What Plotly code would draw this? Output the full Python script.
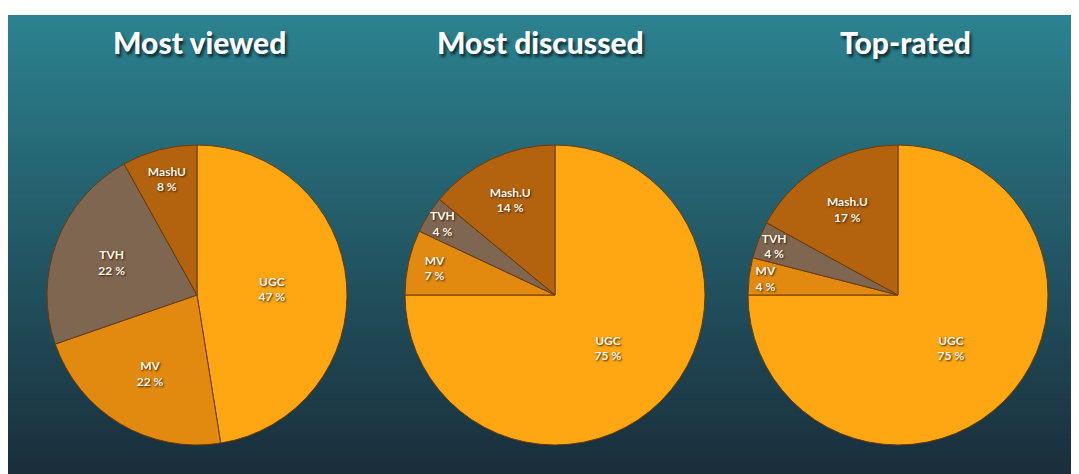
import plotly.graph_objects as go

# data
titles = ["Most viewed", "Most discussed", "Top-rated"]
labels_viewed = ["UGC", "MV", "TVH", "MashU"]
labels_other = ["UGC", "MV", "TVH", "Mash.U"]
share_viewed = [47, 22, 22, 8]
share_discussed = [75, 7, 4, 14]
share_rated = [75, 4, 4, 17]
slice_colors = ["#FFA713", "#E2890F", "#7F6651", "#B3620D"]

# the page adds an 8px body margin, so the figure is 8px smaller each way
W, H = 1071, 466
OFF = 8

fig = go.Figure()

pies = [
    (labels_viewed, share_viewed, 197),
    (labels_other, share_discussed, 555),
    (labels_other, share_rated, 898),
]
rad = 150
cy = 295 - OFF
for labels, values, cx in pies:
    cx = cx - OFF
    fig.add_trace(go.Pie(
        labels=labels,
        values=values,
        sort=False,
        direction="clockwise",
        rotation=0,
        marker=dict(colors=slice_colors, line=dict(color="#6B3A08", width=1)),
        texttemplate="%{label}<br>%{value} %",
        textposition="inside",
        insidetextorientation="horizontal",
        textfont=dict(family="Lato", size=12, color="#FFF8EC",
                      weight="bold", shadow="1px 1px 2px #3a1d00"),
        hoverinfo="label+value",
        showlegend=False,
        domain=dict(x=[(cx - rad) / W, (cx + rad) / W],
                    y=[1 - (cy + rad) / H, 1 - (cy - rad) / H]),
    ))

# title annotations
title_x = [199, 540, 905]
for t, x in zip(titles, title_x):
    fig.add_annotation(
        text=t, x=(x - OFF) / W, y=1 - (42 - OFF) / H,
        xref="paper", yref="paper",
        showarrow=False, xanchor="center", yanchor="middle",
        font=dict(family="Lato", size=30, color="white", weight=900,
                  shadow="2px 3px 3px #0d2a33"),
    )

# teal gradient background: overlapping rects from the bottom up, no seams
top = (44, 130, 144)
bot = (26, 46, 59)
n = 80
y_top = 1 - (15 - OFF) / H
for i in range(n):
    f = i / (n - 1)
    c = tuple(int(round(top[k] + (bot[k] - top[k]) * f)) for k in range(3))
    ya = y_top - y_top * i / n
    fig.add_shape(type="rect", xref="paper", yref="paper",
                  x0=0, x1=1, y0=0, y1=ya,
                  fillcolor="rgb(%d,%d,%d)" % c, line=dict(width=0),
                  layer="below")

fig.update_layout(
    width=W, height=H,
    margin=dict(l=0, r=0, t=0, b=0),
    paper_bgcolor="white",
    plot_bgcolor="white",
    uniformtext=dict(minsize=12, mode="show"),
)

fig.write_html("out.html")
